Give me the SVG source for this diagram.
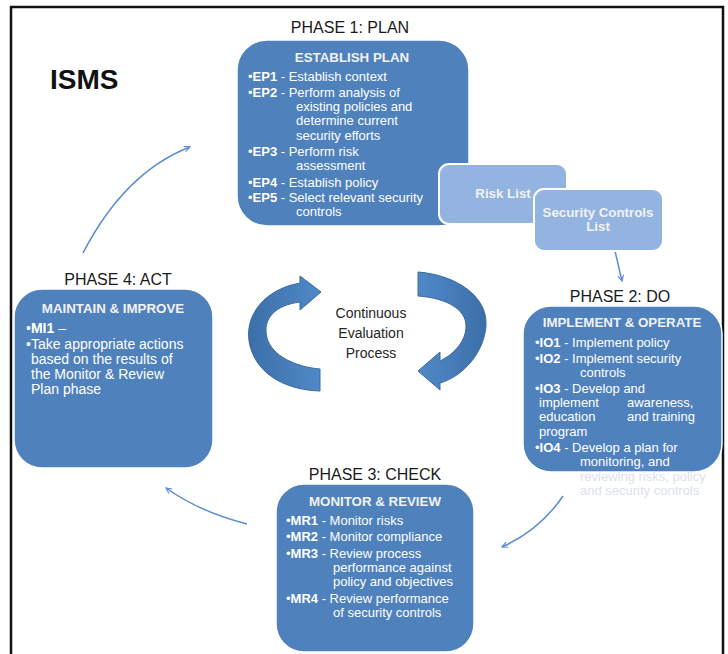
<svg xmlns="http://www.w3.org/2000/svg" width="728" height="654" viewBox="0 0 728 654">
<defs>
<style>
.box{fill:#4f81bd;stroke:#ffffff;stroke-width:1.5}
.lbox{fill:#93b4e0;stroke:#ffffff;stroke-width:2}
.t{font-family:"Liberation Sans",Arial,sans-serif;font-size:13px;fill:#ffffff}
.t4{font-size:14px}
.h{font-family:"Liberation Sans",Arial,sans-serif;font-size:13.3px;font-weight:bold;fill:#f2f2f2;text-anchor:middle}
.b{font-weight:bold}
.ph{font-family:"Liberation Sans",Arial,sans-serif;font-size:16px;fill:#1a1a1a;text-anchor:middle}
.c{font-family:"Liberation Sans",Arial,sans-serif;font-size:14px;fill:#262626;text-anchor:middle}
.conn{fill:none;stroke:#5a8ccf;stroke-width:1.5;marker-end:url(#ah)}
.big{stroke:#3b6a9e;stroke-width:1}
.faint{fill:#dde2ea}
</style>
<marker id="ah" viewBox="0 0 10 10" refX="9" refY="5" markerWidth="7" markerHeight="7" markerUnits="userSpaceOnUse" orient="auto">
<path d="M1,1 L9,5 L1,9" fill="none" stroke="#5a8ccf" stroke-width="1.6"/>
</marker>
<linearGradient id="gl" x1="0" y1="0" x2="1" y2="0">
<stop offset="0" stop-color="#3c6fa8"/>
<stop offset="1" stop-color="#5089c8"/>
</linearGradient>
<linearGradient id="gr" x1="1" y1="0" x2="0" y2="0">
<stop offset="0" stop-color="#3c6fa8"/>
<stop offset="1" stop-color="#5089c8"/>
</linearGradient>
</defs>
<rect width="728" height="654" fill="#ffffff"/>
<path d="M11,654 L11,7 L723,7 L723,654" fill="none" stroke="#111111" stroke-width="2.5"/>
<text x="50" y="89" font-family="Liberation Sans,Arial,sans-serif" font-size="28" font-weight="bold" fill="#111111">ISMS</text>

<g id="connectors">
<path class="conn" d="M83,253 Q125,172 190,147"/>
<path class="conn" d="M247,524 Q200,512 166,488"/>
<path class="conn" d="M563,496 Q540,530 502,547"/>
<path class="conn" d="M615,251 L622,281"/>
</g>

<g id="cycle">
<path class="big" fill="url(#gl)" d="M300,283 C260,290 240,322 252,352 C262,378 290,390 320,391 L320,369 C296,367 272,356 267,338 C262,318 276,305 300,302 L300,310 L321,292 L300,276 Z"/>
<path class="big" fill="url(#gr)" d="M418,272 C456,275 488,296 486,326 C484,352 464,376 440,383 L440,390 L418,371 L440,352 L440,361 C456,353 466,340 466,326 C466,309 446,298 418,296 Z"/>
<text class="c" x="371" y="318">Continuous</text>
<text class="c" x="371" y="338">Evaluation</text>
<text class="c" x="371" y="358">Process</text>
</g>

<g id="phase1">
<text class="ph" x="350" y="33">PHASE 1: PLAN</text>
<rect class="box" x="237" y="40" width="232" height="186" rx="30"/>
<text class="h" x="352" y="62">ESTABLISH PLAN</text>
<text class="t" x="248" y="81">•<tspan class="b">EP1</tspan> - Establish context</text>
<text class="t" x="248" y="97">•<tspan class="b">EP2</tspan> - Perform analysis of</text>
<text class="t" x="296" y="111">existing policies and</text>
<text class="t" x="296" y="125">determine current</text>
<text class="t" x="296" y="140">security efforts</text>
<text class="t" x="248" y="156">•<tspan class="b">EP3</tspan> - Perform risk</text>
<text class="t" x="296" y="170">assessment</text>
<text class="t" x="248" y="187">•<tspan class="b">EP4</tspan> - Establish policy</text>
<text class="t" x="248" y="202">•<tspan class="b">EP5</tspan> - Select relevant security</text>
<text class="t" x="296" y="216">controls</text>
</g>

<g id="risklist">
<rect class="lbox" x="439" y="164" width="128" height="60" rx="10"/>
<text class="h" x="503" y="198">Risk List</text>
</g>

<g id="seccontrols">
<rect class="lbox" x="534" y="189" width="129" height="62" rx="10"/>
<text class="h" x="598" y="217">Security Controls</text>
<text class="h" x="598" y="231">List</text>
</g>

<g id="phase2">
<text class="ph" x="620" y="302">PHASE 2: DO</text>
<rect class="box" x="523" y="306" width="199" height="166" rx="28"/>
<text class="h" x="622" y="327">IMPLEMENT &amp; OPERATE</text>
<text class="t" x="535" y="347">•<tspan class="b">IO1</tspan> - Implement  policy</text>
<text class="t" x="535" y="363">•<tspan class="b">IO2</tspan> - Implement  security</text>
<text class="t" x="580" y="377">controls</text>
<text class="t" x="535" y="393">•<tspan class="b">IO3</tspan> - Develop and</text>
<text class="t" x="539" y="407">implement</text>
<text class="t" x="627" y="407">awareness,</text>
<text class="t" x="539" y="421">education</text>
<text class="t" x="627" y="421">and training</text>
<text class="t" x="539" y="436">program</text>
<text class="t" x="535" y="452">•<tspan class="b">IO4</tspan> - Develop a plan  for</text>
<text class="t" x="580" y="466">monitoring,  and</text>
<text class="t faint" x="580" y="481">reviewing risks, policy</text>
<text class="t faint" x="580" y="495">and security controls</text>
</g>

<g id="phase3">
<text class="ph" x="375" y="480">PHASE 3: CHECK</text>
<rect class="box" x="276" y="484" width="198" height="168" rx="28"/>
<text class="h" x="375" y="506">MONITOR &amp; REVIEW</text>
<text class="t" x="286" y="525">•<tspan class="b">MR1</tspan> - Monitor risks</text>
<text class="t" x="286" y="541">•<tspan class="b">MR2</tspan> - Monitor compliance</text>
<text class="t" x="286" y="558">•<tspan class="b">MR3</tspan> - Review process</text>
<text class="t" x="333" y="572">performance  against</text>
<text class="t" x="333" y="586">policy and objectives</text>
<text class="t" x="286" y="603">•<tspan class="b">MR4</tspan> - Review  performance</text>
<text class="t" x="333" y="617">of security controls</text>
</g>

<g id="phase4">
<text class="ph" x="118" y="285">PHASE 4: ACT</text>
<rect class="box" x="14" y="289" width="199" height="179" rx="28"/>
<text class="h" x="113" y="313">MAINTAIN &amp; IMPROVE</text>
<text class="t t4" x="26" y="333">•<tspan class="b">MI1</tspan> –</text>
<text class="t t4" x="26" y="349">•Take appropriate actions</text>
<text class="t t4" x="31" y="364">based on the results of</text>
<text class="t t4" x="31" y="379">the Monitor  &amp; Review</text>
<text class="t t4" x="31" y="394">Plan phase</text>
</g>
</svg>
